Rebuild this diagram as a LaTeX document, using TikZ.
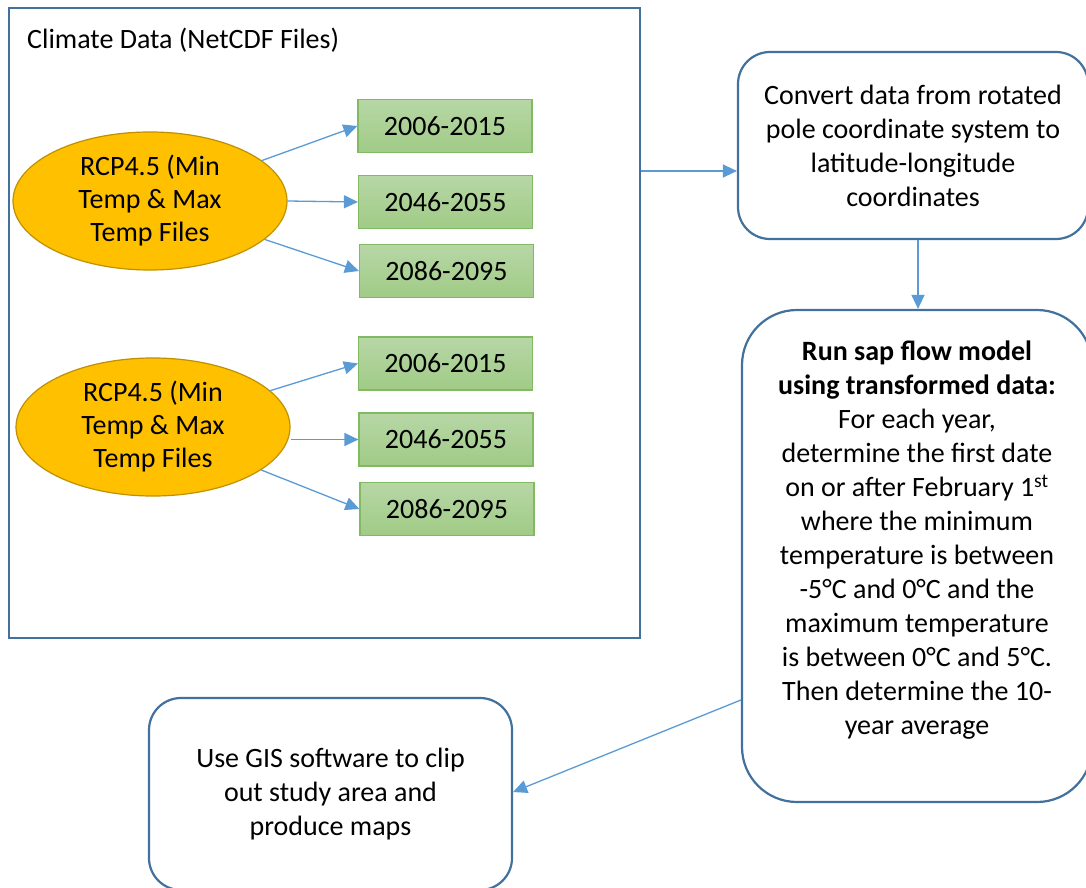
\documentclass[tikz,border=0pt]{standalone}
\usepackage{fontspec}
\setmainfont{Carlito}
\usetikzlibrary{shapes.geometric,arrows.meta}
\definecolor{boxblue}{RGB}{65,113,156}
\definecolor{arrblue}{RGB}{91,155,213}
\definecolor{gold}{RGB}{255,192,0}
\definecolor{golddark}{RGB}{191,144,0}
\definecolor{gtop}{RGB}{183,215,166}
\definecolor{gbot}{RGB}{160,203,134}
\definecolor{gborder}{RGB}{130,186,100}
\newcommand{\bigtxt}{\fontsize{28}{34}\selectfont}
\newcommand{\elltxt}{\fontsize{28}{33}\selectfont}
\begin{document}
\begin{tikzpicture}[x=1pt,y=-1pt,
  arr/.style={draw=arrblue, line width=1.3pt, -{Triangle[length=14pt,width=13pt]}},
  yearbox/.style={rectangle, draw=gborder, line width=1.2pt, top color=gtop, bottom color=gbot,
    minimum width=174pt, minimum height=53pt, inner sep=0pt, font=\bigtxt},
  rcp/.style={ellipse, draw=golddark, line width=1.2pt, fill=gold, minimum width=274pt,
    minimum height=138pt, inner sep=0pt, align=center, font=\elltxt},
  stepbox/.style={rectangle, rounded corners=32pt, draw=boxblue, line width=2.2pt, fill=white,
    inner sep=0pt, align=center, font=\bigtxt},
  plain/.style={inner sep=0pt, align=center, font=\bigtxt}]
\useasboundingbox (0,0) rectangle (1086,888);
\fill[white] (0,0) rectangle (1086,888);
% outer container
\node[draw=boxblue, line width=2pt, minimum width=631pt, minimum height=630pt, inner sep=0pt] (climate) at (324.5,323) {};
\node[plain, anchor=west] (title) at (27,40) {Climate Data (NetCDF Files)};
% ellipses
\node[rcp] (e1) at (150,201) {RCP4.5 (Min\\Temp \& Max\\Temp Files};
\node[rcp] (e2) at (153,427) {RCP4.5 (Min\\Temp \& Max\\Temp Files};
% year boxes
\node[yearbox] (a1) at (445,126) {2006-2015};
\node[yearbox] (a2) at (445.5,202) {2046-2055};
\node[yearbox] (a3) at (446.5,271) {2086-2095};
\node[yearbox] (b1) at (445.5,363.5) {2006-2015};
\node[yearbox] (b2) at (446,439.5) {2046-2055};
\node[yearbox] (b3) at (447,509) {2086-2095};
\draw[arr] (e1) -- (a1.west);
\draw[arr] (e1.east) -- (a2.west);
\draw[arr] (e1) -- (a3.west);
\draw[arr] (e2) -- (b1.west);
\draw[arr] (e2.east |- b2.west) -- (b2.west);
\draw[arr] (e2) -- (b3.west);
% process boxes
\node[stepbox, minimum width=350pt, minimum height=187pt] (convert) at (913,145.5)
  {Convert data from rotated\\pole coordinate system to\\latitude-longitude\\coordinates};
\node[stepbox, rounded corners=55pt, minimum width=350pt, minimum height=492pt] (run) at (917,556) {};
\node[plain] (runtext) at (917,540) {\textbf{Run sap flow model}\\\textbf{using transformed data:}\\For each year,\\determine the first date\\on or after February 1\textsuperscript{st}\\where the minimum\\temperature is between\\-5°C and 0°C and the\\maximum temperature\\is between 0°C and 5°C.\\Then determine the 10-\\year average};
\node[stepbox, minimum width=363pt, minimum height=192pt] (gis) at (330.5,794)
  {Use GIS software to clip\\out study area and\\produce maps};
% connectors
\coordinate (ca) at (0,171);
\coordinate (cb) at (918,0);
\coordinate (cc) at (0,700);
\coordinate (cd) at (0,792);
\draw[arr] (climate.east |- ca) -- (convert.west |- ca);
\draw[arr] (convert.south -| cb) -- (run.north -| cb);
\draw[arr] (run.west |- cc) -- (gis.east |- cd);
\end{tikzpicture}
\end{document}
